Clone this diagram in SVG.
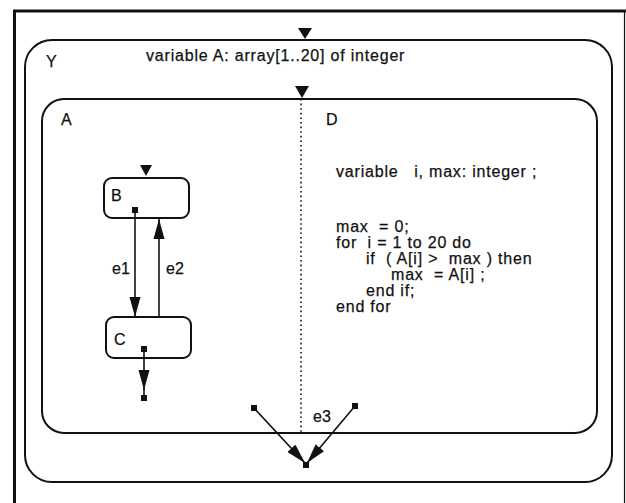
<svg xmlns="http://www.w3.org/2000/svg" width="626" height="503" viewBox="0 0 626 503">
<defs>
<style>
.box{fill:none;stroke:#111;stroke-width:2}
.t{font-family:"Liberation Sans",Arial,sans-serif;font-size:16px;letter-spacing:0.8px;fill:#111;stroke:#111;stroke-width:0.25}
.lb{font-family:"Liberation Sans",Arial,sans-serif;font-size:16px;fill:#111;stroke:#111;stroke-width:0.25}
.ln{stroke:#111;stroke-width:1.6;fill:none}
.dot{fill:#111}
</style>
<marker id="ahl" viewBox="0 0 20 12" refX="20" refY="6" markerWidth="20" markerHeight="12" markerUnits="userSpaceOnUse" orient="auto">
<path d="M0,0.5 L20,6 L0,11.5 Z" fill="#111"/>
</marker>
</defs>
<rect width="626" height="503" fill="#fff"/>
<path d="M14.5,503 V11 H626" fill="none" stroke="#111" stroke-width="3"/>
<line x1="624.5" y1="11" x2="624.5" y2="503" stroke="#111" stroke-width="1.2"/>

<g id="Y">
<rect class="box" x="25" y="40" width="587" height="442" rx="27" ry="27"/>
<path d="M298,28 H312 L305,39 Z" fill="#111"/>
<text class="lb" x="46" y="67">Y</text>
<text class="t" x="146" y="61">variable A: array[1..20] of integer</text>
</g>

<g id="A">
<rect class="box" x="42" y="99" width="555" height="334" rx="22" ry="22"/>
<path d="M295,86 H309 L302,98 Z" fill="#111"/>
<line x1="301" y1="99" x2="301" y2="433" stroke="#111" stroke-width="1.6" stroke-dasharray="1.6,3"/>
<text class="lb" x="61" y="125">A</text>
<text class="lb" x="326" y="125">D</text>
</g>

<g id="D-code">
<text class="t" x="336" y="177" xml:space="preserve">variable   i, max: integer ;</text>
<text class="t" x="336" y="232" xml:space="preserve">max  = 0;</text>
<text class="t" x="336" y="248" xml:space="preserve">for  i = 1 to 20 do</text>
<text class="t" x="366" y="264" xml:space="preserve">if  ( A[i] &gt;  max ) then</text>
<text class="t" x="391" y="280" xml:space="preserve">max  = A[i] ;</text>
<text class="t" x="366" y="296" xml:space="preserve">end if;</text>
<text class="t" x="336" y="312" xml:space="preserve">end for</text>
</g>

<g id="B">
<rect class="box" x="104" y="178" width="85" height="40" rx="8" ry="8"/>
<path d="M140,165 H152 L146,176 Z" fill="#111"/>
<text class="lb" x="111" y="201">B</text>
<rect class="dot" x="132" y="207" width="6" height="6"/>
</g>

<g id="C">
<rect class="box" x="106" y="317" width="85" height="41" rx="8" ry="8"/>
<text class="lb" x="114" y="345">C</text>
<rect class="dot" x="141" y="346" width="6" height="6"/>
</g>

<g id="connectors">
<line class="ln" x1="135" y1="212" x2="135" y2="317" marker-end="url(#ahl)"/>
<text class="lb" x="112" y="274">e1</text>
<line class="ln" x1="159" y1="317" x2="159" y2="219" marker-end="url(#ahl)"/>
<text class="lb" x="166" y="274">e2</text>
<line class="ln" x1="144" y1="352" x2="144" y2="390" marker-end="url(#ahl)"/>
<line class="ln" x1="144" y1="389" x2="144" y2="396"/>
<rect class="dot" x="141" y="395" width="6" height="6"/>
<rect class="dot" x="251" y="405" width="6" height="6"/>
<rect class="dot" x="352" y="403" width="6" height="6"/>
<rect class="dot" x="303" y="462" width="6" height="6"/>
<line class="ln" x1="254" y1="408" x2="305" y2="463" marker-end="url(#ahl)"/>
<line class="ln" x1="355" y1="406" x2="307" y2="463" marker-end="url(#ahl)"/>
<text class="lb" x="313" y="422">e3</text>
</g>
</svg>
